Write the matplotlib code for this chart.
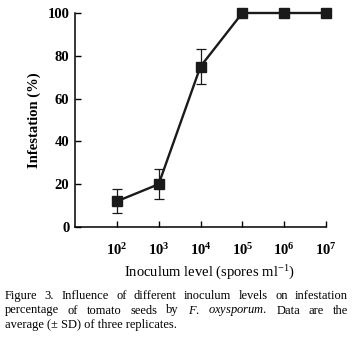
import matplotlib.pyplot as plt
import numpy as np

# data
exponents = [2, 3, 4, 5, 6, 7]
infestation = [12, 20, 75, 100, 100, 100]
sd = [5.6, 7, 8, 0, 0, 0]
yticks = [0, 20, 40, 60, 80, 100]
caption_lines = [
    ["Figure", "3.", "Influence", "of", "different", "inoculum", "levels", "on", "infestation"],
    ["percentage", "of", "tomato", "seeds", "by", "$\\it{F.}$", "$\\it{oxysporum}$.", "Data", "are", "the"],
]
caption_last = "average (\u00b1 SD) of three replicates."

plt.rcParams['font.family'] = ['Liberation Serif', 'DejaVu Serif']
plt.rcParams['mathtext.fontset'] = 'custom'
plt.rcParams['mathtext.rm'] = 'Liberation Serif'
plt.rcParams['mathtext.it'] = 'Liberation Serif:italic'
plt.rcParams['mathtext.bf'] = 'Liberation Serif:bold'

fig = plt.figure(figsize=(3.54, 3.39), dpi=100)
ax = fig.add_axes([75/354, 1-227/339, (326-75)/354, (227-13)/339])

ax.errorbar(exponents, infestation, yerr=sd, color='#1a1a1a', lw=1.7,
            marker='s', ms=6.5, capsize=3.5, elinewidth=0.9, capthick=0.9,
            clip_on=False, zorder=3)

ax.set_xlim(1, 7)
ax.set_ylim(0, 100)
ax.spines['top'].set_visible(False)
ax.spines['right'].set_visible(False)
ax.spines['left'].set_linewidth(1.1)
ax.spines['bottom'].set_linewidth(1.1)
ax.set_xticks(exponents)
ax.set_xticklabels(['$\\mathbf{10^{%d}}$' % e for e in exponents], fontsize=10.5)
ax.set_yticks(yticks)
ax.set_yticklabels([str(v) for v in yticks], fontsize=10.5, fontweight='bold')
ax.tick_params(axis='x', direction='in', length=4, width=1, pad=11)
ax.tick_params(axis='y', direction='in', length=4, width=1, pad=4)
ax.set_ylabel('Infestation (%)', fontsize=10.5, fontweight='bold', labelpad=5)
ax.set_xlabel('Inoculum level (spores ml$^{\\mathregular{-1}}$)', fontsize=10.5)
ax.xaxis.set_label_coords((209-75)/(326-75), -(273-227)/(227-13), transform=ax.transAxes)
ax.xaxis.label.set_va('center')

# caption, justified by hand
fig.canvas.draw()
r = fig.canvas.get_renderer()
fs = 9.0
left, right = 5, 348
baselines = [299, 313.5]
for words, yb in zip(caption_lines, baselines):
    texts = [fig.text(0, 1-yb/339, w, fontsize=fs, va='baseline') for w in words]
    widths = [t.get_window_extent(r).width for t in texts]
    gap = (right - left - sum(widths)) / (len(words) - 1)
    x = left
    for t, w in zip(texts, widths):
        t.set_x(x/354)
        x += w + gap
fig.text(left/354, 1-328/339, caption_last, fontsize=fs, va='baseline')

fig.savefig('out.png', dpi=100)
